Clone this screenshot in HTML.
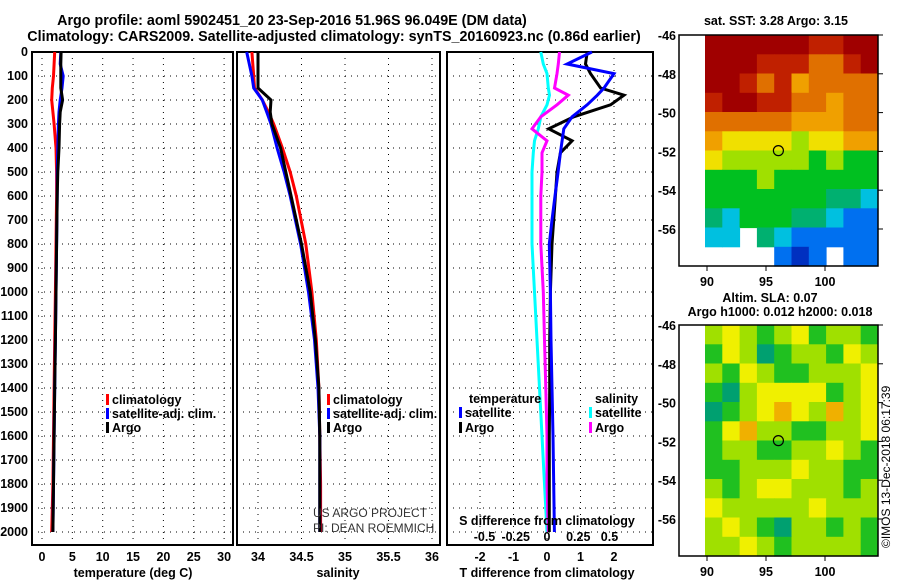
<!DOCTYPE html>
<html><head><meta charset="utf-8"><style>
body{margin:0;background:#fff;}
svg{display:block;font-family:"Liberation Sans",sans-serif;}
.b{font-weight:bold;font-size:12.5px;}
.t{font-weight:bold;font-size:14.3px;}
</style></head><body>
<svg id="c" width="900" height="580"></svg>
<script>
const depths=[0,50,100,150,200,250,300,400,500,600,800,1000,1200,1400,1600,1800,2000];
const tempClim=[2.1,2.0,1.9,1.7,1.6,1.8,2.0,2.3,2.4,2.4,2.3,2.2,2.1,2.0,1.9,1.8,1.6];
const tempSat=[3.1,3.0,3.5,3.3,3.0,2.8,2.7,2.6,2.5,2.5,2.4,2.3,2.2,2.1,2.0,1.9,1.8];
const tempArgo=[3.15,3.1,3.1,3.1,3.4,3.0,2.9,2.8,2.6,2.5,2.4,2.3,2.2,2.1,2.0,1.9,1.8];
const salClim=[33.93,33.94,33.95,33.96,34.05,34.12,34.18,34.28,34.37,34.44,34.55,34.62,34.67,34.70,34.71,34.72,34.72];
const salSat=[33.87,33.9,33.93,33.95,34.05,34.1,34.15,34.22,34.3,34.37,34.49,34.58,34.65,34.69,34.71,34.71,34.71];
const salArgo=[34.0,34.0,34.0,34.0,34.15,34.14,34.16,34.26,34.32,34.38,34.5,34.6,34.66,34.7,34.71,34.71,34.71];
const diffDepths=[0,50,90,150,180,220,270,320,370,420,500,600,700,800,1000,1200,1400,1600,1800,2000];
const tDiffSat=[1.34,0.6,2.0,1.7,1.5,1.2,0.75,0.5,0.45,0.4,0.33,0.24,0.15,0.07,0.1,0.12,0.15,0.18,0.2,0.22];
const tDiffArgo=[1.2,1.15,1.3,1.6,2.3,1.9,0.8,0.05,0.75,0.4,0.3,0.25,0.2,0.15,0.1,0.08,0.08,0.07,0.07,0.07];
const sDiffArgo=[0.1,0.09,0.08,0.06,0.17,0.08,-0.05,-0.12,0.0,-0.04,-0.04,-0.05,-0.05,-0.05,-0.03,-0.02,-0.01,0.0,0.0,0.01];
const sDiffSat=[-0.05,-0.03,0.0,0.01,0.02,0.0,-0.05,-0.07,-0.1,-0.11,-0.12,-0.12,-0.12,-0.12,-0.1,-0.08,-0.06,-0.04,-0.02,0.0];
const depthTicks=[0,100,200,300,400,500,600,700,800,900,1000,1100,1200,1300,1400,1500,1600,1700,1800,1900,2000];
const tempTicks=[0,5,10,15,20,25,30];
const salTicks=[34,34.5,35,35.5,36];
const tDiffTicks=[-2,-1,0,1,2];
const sDiffTicks=[-0.5,-0.25,0,0.25,0.5];
const latTicks=[-46,-48,-50,-52,-54,-56];
const lonTicks=[90,95,100];
const sstGrid=[
[9,9,9,9,9,9,8,8,9,9],[9,9,9,8,8,8,7,7,8,9],[9,9,8,7,8,6,7,7,7,7],[8,9,9,8,8,7,7,6,7,7],
[7,7,7,7,7,6,6,6,7,7],[6,5,5,5,5,4,5,5,6,6],[5,4,4,4,4,4,3,4,3,3],[3,3,3,4,3,3,3,3,3,3],
[3,3,3,3,3,3,3,2,2,1],[2,1,3,3,3,2,2,1,0,0],[1,1,-9,2,1,0,0,0,0,0],[-9,-9,-9,-9,0,-1,0,-9,0,0]];
const slaGrid=[
[2,3,2,1,2,3,1,2,2,1],[1,3,2,0,1,2,2,1,3,2],[2,1,3,2,1,1,2,2,2,3],[1,0,2,3,3,3,3,1,2,3],
[0,1,2,3,4,3,2,4,2,3],[1,3,4,2,2,1,1,2,2,3],[1,2,2,1,1,2,2,3,2,1],[1,1,2,2,2,3,2,2,1,1],
[2,1,2,3,3,2,2,2,1,2],[3,2,2,2,2,2,3,2,2,2],[2,3,2,1,0,2,2,1,2,1],[2,2,3,2,1,2,2,2,2,1]];
const argoLon=96.05, argoLat=-51.96;

const S=document.getElementById('c');const NS='http://www.w3.org/2000/svg';
function el(tag,attrs,txt){const e=document.createElementNS(NS,tag);for(const k in attrs)e.setAttribute(k,attrs[k]);if(txt!==undefined)e.textContent=txt;S.appendChild(e);return e;}
const yD=d=>52+0.24*d;
const PT=[32,233],PS=[237,440],PD=[447,653];
const xT=v=>42+v*6.07, xS=v=>258+(v-34)*87, xTd=v=>547+v*33.5, xSd=v=>547+v*125;
function panel(p,name){
  const r=el('rect',{x:p[0],y:52,width:p[1]-p[0],height:493,fill:'none',stroke:'#000','stroke-width':2});
  
  depthTicks.forEach(d=>{const l=el('line',{x1:p[0],x2:p[1],y1:yD(d),y2:yD(d),stroke:'#000','stroke-dasharray':'1,5'});});
}
function vgrid(ticks,fx,name){ticks.forEach(v=>{const l=el('line',{x1:fx(v),x2:fx(v),y1:52,y2:545,stroke:'#000','stroke-dasharray':'1,5'});});}
panel(PT,'temperature-panel');panel(PS,'salinity-panel');panel(PD,'difference-panel');
vgrid(tempTicks,xT,'temp-grid');vgrid(salTicks,xS,'sal-grid');vgrid(tDiffTicks,xTd,'diff-grid');
depthTicks.forEach(d=>{const t=el('text',{x:28,y:yD(d)+4,'text-anchor':'end',class:'b'},d);});
function xlabels(ticks,fx,y,name,fmt){ticks.forEach(v=>{const t=el('text',{x:fx(v),y:y,'text-anchor':'middle',class:'b'},fmt?fmt(v):v);});}
xlabels(tempTicks,xT,561,'temp-tick-label');xlabels(salTicks,xS,561,'sal-tick-label');xlabels(tDiffTicks,xTd,561,'tdiff-tick-label');
xlabels(sDiffTicks,xSd,541,'sdiff-tick-label');
function line(xs,ys,fx,color,name){const pts=xs.map((v,i)=>fx(v).toFixed(1)+','+yD(ys[i]).toFixed(1)).join(' ');const p=el('polyline',{points:pts,fill:'none',stroke:color,'stroke-width':3});}
line(tempClim,depths,xT,'#f00','temp-climatology-line');line(tempSat,depths,xT,'#00f','temp-satellite-line');line(tempArgo,depths,xT,'#000','temp-argo-line');
line(salClim,depths,xS,'#f00','sal-climatology-line');line(salSat,depths,xS,'#00f','sal-satellite-line');line(salArgo,depths,xS,'#000','sal-argo-line');
line(sDiffSat,diffDepths,xSd,'#0ff','sdiff-satellite-line');line(sDiffArgo,diffDepths,xSd,'#f0f','sdiff-argo-line');
line(tDiffArgo,diffDepths,xTd,'#000','tdiff-argo-line');line(tDiffSat,diffDepths,xTd,'#00f','tdiff-satellite-line');
function leg(x,y,c,txt,name){const r=el('rect',{x:x,y:y-10,width:3,height:11,fill:c});const t=el('text',{x:x+6,y:y,class:'b'},txt);}
leg(106,404,'#f00','climatology','legend-climatology');leg(106,418,'#00f','satellite-adj. clim.','legend-satellite');leg(106,432,'#000','Argo','legend-argo');
leg(327,404,'#f00','climatology','legend2-climatology');leg(327,418,'#00f','satellite-adj. clim.','legend2-satellite');leg(327,432,'#000','Argo','legend2-argo');
el('text',{x:469,y:403,class:'b'},'temperature');el('text',{x:595,y:403,class:'b'},'salinity');
leg(459,417,'#00f','satellite','legend3-tsat');leg(459,432,'#000','Argo','legend3-targo');
leg(589,417,'#0ff','satellite','legend3-ssat');leg(589,432,'#f0f','Argo','legend3-sargo');
el('text',{x:313,y:517,'font-size':'12px',fill:'#333'},'US ARGO PROJECT');el('text',{x:313,y:532,'font-size':'12px',fill:'#333'},'PI: DEAN ROEMMICH');
el('text',{x:547,y:525,'text-anchor':'middle',class:'b'},'S difference from climatology');
el('text',{x:133,y:577,'text-anchor':'middle',class:'b'},'temperature (deg C)');
el('text',{x:338,y:577,'text-anchor':'middle',class:'b'},'salinity');
el('text',{x:547,y:577,'text-anchor':'middle',class:'b'},'T difference from climatology');
el('text',{x:292,y:25,'text-anchor':'middle',class:'t'},'Argo profile: aoml 5902451_20 23-Sep-2016 51.96S 96.049E (DM data)');
el('text',{x:334,y:41,'text-anchor':'middle',class:'t'},'Climatology: CARS2009. Satellite-adjusted climatology: synTS_20160923.nc (0.86d earlier)');
// maps
const xL=v=>707+(v-90)*11.8;
const sstCol=['#0030c0','#0070f0','#00c0e0','#00b070','#00c020','#a0e000','#f0e000','#f0a000','#e07000','#c02000','#a00000'];
const slaCol=['#00a070','#20c020','#a0e000','#f0f000','#f0b000'];
function map(grid,cols,top,name,off){
  const x0=705,x1=878,w=(x1-x0)/10,h=231/12;
  grid.forEach((row,i)=>row.forEach((v,j)=>{if(v<-5)return;const r=el('rect',{x:(x0+j*w).toFixed(1),y:(top+i*h).toFixed(1),width:(w+0.5).toFixed(1),height:(h+0.5).toFixed(1),fill:cols[v+off]});}));
  const b=el('rect',{x:679,y:top,width:199,height:231,fill:'none',stroke:'#000','stroke-width':1.5});
  const yL=v=>top+(-46-v)*19.4;
  latTicks.forEach(v=>{const t=el('text',{x:676,y:yL(v)+5,'text-anchor':'end',class:'b'},v);el('line',{x1:878,x2:883,y1:yL(v),y2:yL(v),stroke:'#000'});});
  lonTicks.forEach(v=>{const t=el('text',{x:xL(v),y:top+251,'text-anchor':'middle',class:'b'},v);el('line',{x1:xL(v),x2:xL(v),y1:top+231,y2:top+236,stroke:'#000'});});
  const c=el('circle',{cx:xL(argoLon),cy:yL(argoLat),r:5,fill:'none',stroke:'#000','stroke-width':1.2});
}
map(sstGrid,sstCol,35,'sst-map',1);map(slaGrid,slaCol,325,'sla-map',0);
el('text',{x:776,y:25,'text-anchor':'middle',class:'b'},'sat. SST: 3.28 Argo: 3.15');
el('text',{x:770,y:302,'text-anchor':'middle',class:'b'},'Altim. SLA: 0.07');
el('text',{x:780,y:316,'text-anchor':'middle',class:'b'},'Argo h1000: 0.012 h2000: 0.018');
el('text',{x:890,y:548,transform:'rotate(-90 890 548)','font-size':'12px'},'©IMOS 13-Dec-2018 06:17:39');
</script>
</body></html>
